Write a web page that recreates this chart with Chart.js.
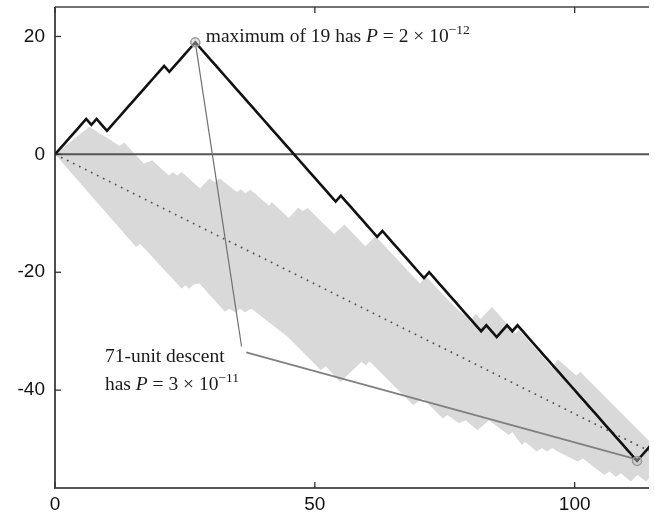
<!DOCTYPE html>
<html><head><meta charset="utf-8">
<script src="https://cdn.jsdelivr.net/npm/chart.js@4.4.1/dist/chart.umd.min.js"></script>
<style>html,body{margin:0;padding:0;background:#fff;}canvas{display:block;}</style>
</head><body>
<canvas id="c" width="655" height="513"></canvas>
<script>
// ---- data ----
const xTicks = [0, 50, 100];
const yTicks = [20, 0, -20, -40];

// random walk value at step 0,1,2,...
const walkY = [0,1,2,3,4,5,6,5,6,5,4,5,6,7,8,9,10,11,12,13,14,15,14,15,16,17,18,19,
  18,17,16,15,14,13,12,11,10,9,8,7,6,5,4,3,2,1,0,-1,-2,-3,-4,-5,-6,-7,-8,
  -7,-8,-9,-10,-11,-12,-13,-14,
  -13,-14,-15,-16,-17,-18,-19,-20,-21,
  -20,-21,-22,-23,-24,-25,-26,-27,-28,-29,-30,
  -29,-30,-31,-30,-29,-30,-29,
  -30,-31,-32,-33,-34,-35,-36,-37,-38,-39,-40,-41,-42,-43,-44,-45,-46,-47,-48,-49,-50,-51,-52,
  -51,-50,-49];

// shaded band: upper edge vertices
const bandUpperX = [0,6.6,11.4,12.4,13.3,17.1,18.7,21.9,22.7,23.5,24.4,27.9,29.7,30.7,31.7,35.0,35.8,36.6,37.6,41.2,41.7,45.0,46.8,47.7,48.6,53.7,55.7,59.7,61.7,70.2,71.4,76.3,79.9,81.0,81.9,84.1,88.6,89.3,95.6,96.8,100.3,101.1,114.3];
const bandUpperY = [0,4.7,2.0,1.4,2.0,-1.6,-1.0,-3.6,-3.0,-3.6,-3.0,-5.8,-4.1,-4.7,-4.1,-6.4,-5.9,-6.6,-6.0,-8.7,-8.1,-10.8,-9.0,-9.6,-9.1,-13.5,-11.9,-15.6,-13.9,-21.9,-20.7,-25.3,-28.2,-27.1,-27.9,-25.9,-30.4,-29.8,-36.1,-34.8,-37.5,-36.9,-48.6];
// shaded band: lower edge vertices
const bandLowerX = [0,15.6,16.4,24.4,25.1,25.8,26.6,27.8,32.7,33.6,34.6,35.6,36.5,37.8,38.7,44.8,47.3,51.1,52.1,54.9,59.0,59.8,60.5,68.9,70.8,74.6,75.5,77.8,79.0,81.3,83.5,87.3,88.0,89.8,90.5,92.7,93.7,94.7,95.7,96.7,100.6,101.6,105.7,106.7,107.9,108.9,110.8,112.1,113.7,114.3];
const bandLowerY = [0,-15.7,-15.2,-22.8,-22.2,-22.8,-22.1,-21.9,-26.7,-26.2,-26.8,-26.2,-26.8,-26.2,-26.8,-31.0,-33.2,-36.6,-36.0,-38.6,-35.2,-35.8,-35.1,-42.5,-41.4,-44.8,-44.2,-45.6,-45.1,-46.8,-45.1,-47.6,-47.1,-49.3,-48.8,-50.4,-49.8,-50.4,-49.8,-50.4,-52.1,-51.6,-54.4,-53.8,-54.7,-54.1,-55.5,-54.4,-55.5,-55.0];

// expected drift (dotted)
const driftX = [0, 114.3];
const driftY = [0, -50.3];

// highlighted points: maximum and end of descent
const markX = [27, 112];
const markY = [19, -52];
// annotation connector lines
const conn1X = [27, 35.9];
const conn1Y = [19, -32.6];
const conn2X = [36.8, 111.4];
const conn2Y = [-33.6, -51.6];

const toXY = (xs, ys) => xs.map((x, i) => ({x, y: ys[i]}));

// ---- drawing helpers ----
function seg(ctx, x1, y1, x2, y2) { ctx.beginPath(); ctx.moveTo(x1, y1); ctx.lineTo(x2, y2); ctx.stroke(); }
function rich(ctx, x, y, parts) {
  let cx = x;
  parts.forEach(p => {
    ctx.font = p.f;
    ctx.fillText(p.t, cx, y + (p.dy || 0));
    cx += ctx.measureText(p.t).width;
  });
}
const SERIF = '"Liberation Serif", "DejaVu Serif", serif';
const FS = 19.5;
const reg = FS + 'px ' + SERIF, ita = 'italic ' + FS + 'px ' + SERIF, sup = '13.5px ' + SERIF;

const framePlugin = {
  id: 'frame',
  afterDatasetDraw(chart, args) {
    if (args.index !== 1) return;
    const {ctx, chartArea: a, scales: {y}} = chart;
    ctx.save();
    ctx.strokeStyle = '#555'; ctx.lineWidth = 2;
    const py = y.getPixelForValue(0);
    seg(ctx, a.left, py, a.right, py);
    ctx.restore();
  },
  afterDraw(chart) {
    const {ctx, chartArea: a, scales: {x, y}} = chart;
    ctx.save();
    ctx.lineCap = 'butt';
    ctx.strokeStyle = '#444'; ctx.lineWidth = 1.5;
    seg(ctx, a.left, a.top, a.right, a.top);
    ctx.strokeStyle = '#222'; ctx.lineWidth = 1.6;
    seg(ctx, a.left, a.top, a.left, a.bottom);
    ctx.strokeStyle = '#555'; ctx.lineWidth = 2;
    seg(ctx, a.left - 1, a.bottom, a.right, a.bottom);
    ctx.lineWidth = 1.3; ctx.strokeStyle = '#333';
    xTicks.forEach(v => {
      const px = x.getPixelForValue(v);
      seg(ctx, px, a.bottom, px, a.bottom - 6);
      seg(ctx, px, a.top, px, a.top + 6);
    });
    yTicks.forEach(v => {
      const py = y.getPixelForValue(v);
      seg(ctx, a.left, py, a.left + 6, py);
    });
    // annotations
    ctx.fillStyle = '#1a1a1a';
    ctx.textBaseline = 'alphabetic';
    rich(ctx, x.getPixelForValue(29), y.getPixelForValue(19.1), [
      {t: 'maximum of 19 has ', f: reg}, {t: 'P', f: ita}, {t: ' = 2 \u00d7 10', f: reg}, {t: '\u221212', f: sup, dy: -8}
    ]);
    rich(ctx, x.getPixelForValue(9.6), y.getPixelForValue(-35.3), [
      {t: '71-unit descent', f: reg}
    ]);
    rich(ctx, x.getPixelForValue(9.6), y.getPixelForValue(-39.9), [
      {t: 'has ', f: reg}, {t: 'P', f: ita}, {t: ' = 3 \u00d7 10', f: reg}, {t: '\u221211', f: sup, dy: -8}
    ]);
    ctx.restore();
  }
};

const tickFont = {family: '"Liberation Sans", Arial, sans-serif', size: 19};

new Chart(document.getElementById('c'), {
  type: 'line',
  data: {
    datasets: [
      {data: toXY(bandUpperX, bandUpperY), fill: 1, backgroundColor: '#d9d9d9', borderColor: 'rgba(0,0,0,0)', borderWidth: 0, order: 6},
      {data: toXY(bandLowerX, bandLowerY), fill: false, borderColor: 'rgba(0,0,0,0)', borderWidth: 0, order: 5},
      {data: toXY(driftX, driftY), fill: false, borderColor: '#555', borderWidth: 1.7, borderDash: [1.7, 5], order: 4},
      {data: toXY(conn1X, conn1Y), fill: false, borderColor: '#707070', borderWidth: 1.2, order: 3},
      {data: toXY(conn2X, conn2Y), fill: false, borderColor: '#808080', borderWidth: 1.8, order: 3},
      {data: walkY.map((v, i) => ({x: i, y: v})), fill: false, borderColor: '#111', borderWidth: 2.6, borderJoinStyle: 'miter', order: 1},
      {data: toXY(markX, markY), showLine: false, pointRadius: 4.5, pointBorderWidth: 1.5,
       pointBorderColor: '#9a9a9a', pointBackgroundColor: 'rgba(190,190,190,0.45)', order: 0}
    ]
  },
  options: {
    responsive: false, animation: false, devicePixelRatio: 1,
    layout: {padding: {top: 7, left: 0, right: 0, bottom: 0}},
    plugins: {legend: {display: false}, tooltip: {enabled: false}},
    elements: {point: {radius: 0}, line: {tension: 0}},
    scales: {
      x: {type: 'linear', min: 0, max: 114.3,
          afterBuildTicks: s => { s.ticks = xTicks.map(v => ({value: v})); },
          afterFit: s => { s.height = 25; s.paddingLeft = 0; s.paddingRight = 0; },
          grid: {display: false, drawTicks: false}, border: {display: false},
          ticks: {padding: 5, color: '#111', font: tickFont, maxRotation: 0, autoSkip: false}},
      y: {type: 'linear', min: -56.6, max: 25,
          afterBuildTicks: s => { s.ticks = yTicks.map(v => ({value: v})); },
          afterFit: s => { s.width = 55; s.paddingTop = 0; s.paddingBottom = 0; },
          grid: {display: false, drawTicks: false}, border: {display: false},
          ticks: {padding: 10, color: '#111', font: tickFont, autoSkip: false}}
    }
  },
  plugins: [framePlugin]
});
</script>
</body></html>
